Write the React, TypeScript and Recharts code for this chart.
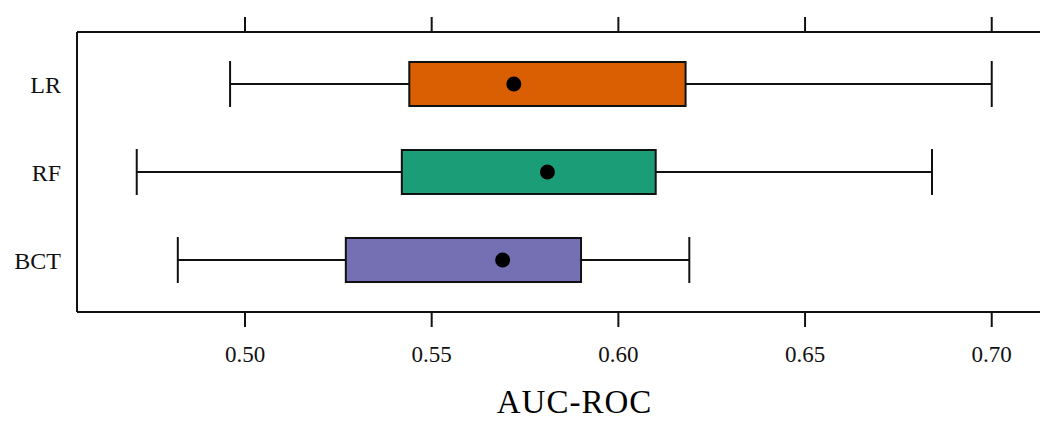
import React from 'react';
import {
  ComposedChart,
  Bar,
  Line,
  Cell,
  XAxis,
  YAxis,
} from 'recharts';

// AUC-ROC spread per model
const models = ['LR', 'RF', 'BCT'];
const whiskerLow = [0.496, 0.471, 0.482];
const lowerQuartile = [0.544, 0.542, 0.527];
const means = [0.572, 0.581, 0.569];
const upperQuartile = [0.618, 0.61, 0.59];
const whiskerHigh = [0.7, 0.684, 0.619];
const boxColors = ['#D95F02', '#1B9E77', '#7570B3'];
const xTicks = [0.5, 0.55, 0.6, 0.65, 0.7];

const FONT = '"Liberation Serif", "Times New Roman", serif';
const INK = '#111';

// stacked pieces: hidden base -> left whisker -> box -> right whisker
const data = models.map((name, i) => ({
  name,
  base: whiskerLow[i],
  leftWhisker: lowerQuartile[i] - whiskerLow[i],
  box: upperQuartile[i] - lowerQuartile[i],
  rightWhisker: whiskerHigh[i] - upperQuartile[i],
  mean: means[i],
}));

const LeftWhisker = (p: any) => {
  const { x, y, width, height } = p;
  const cy = y + height / 2;
  return (
    <g stroke={INK} strokeWidth={2}>
      <line x1={x} x2={x + width} y1={cy} y2={cy} />
      <line x1={x} x2={x} y1={y - 1} y2={y + height + 1} />
    </g>
  );
};

const RightWhisker = (p: any) => {
  const { x, y, width, height } = p;
  const cy = y + height / 2;
  return (
    <g stroke={INK} strokeWidth={2}>
      <line x1={x} x2={x + width} y1={cy} y2={cy} />
      <line x1={x + width} x2={x + width} y1={y - 1} y2={y + height + 1} />
    </g>
  );
};

const App: React.FC = () => {
  return (
    <div
      style={{
        position: 'fixed',
        left: 0,
        top: 0,
        width: 1040,
        height: 422,
        overflow: 'hidden',
        background: '#fff',
      }}
    >
      <ComposedChart
        width={1100}
        height={422}
        data={data}
        layout="vertical"
        margin={{ top: 0, right: 0, bottom: 0, left: 0 }}
        barSize={44}
      >
        <XAxis
          type="number"
          domain={[0.455, 0.729]}
          allowDataOverflow
          ticks={xTicks}
          tickFormatter={(v: number) => v.toFixed(2)}
          height={110}
          tickSize={15}
          tickMargin={19}
          stroke={INK}
          strokeWidth={2}
          tick={{ fill: INK, fontSize: 23, fontFamily: FONT }}
          label={{
            value: 'AUC-ROC',
            position: 'insideBottom',
            offset: 9,
            dx: -14,
            fill: '#000',
            fontSize: 33,
            letterSpacing: 1,
            fontFamily: FONT,
          }}
        />
        <XAxis
          xAxisId="top"
          orientation="top"
          type="number"
          domain={[0.455, 0.729]}
          allowDataOverflow
          ticks={xTicks}
          tickFormatter={() => ''}
          height={32}
          tickSize={15}
          stroke={INK}
          strokeWidth={2}
        />
        <YAxis
          type="category"
          dataKey="name"
          width={77}
          padding={{ top: 8, bottom: 8 }}
          tickLine={false}
          tickSize={0}
          tickMargin={16}
          stroke={INK}
          strokeWidth={2}
          tick={{ fill: INK, fontSize: 24, fontFamily: FONT }}
        />

        <Bar dataKey="base" stackId="bx" fill="transparent" isAnimationActive={false} />
        <Bar dataKey="leftWhisker" stackId="bx" shape={LeftWhisker} isAnimationActive={false} />
        <Bar dataKey="box" stackId="bx" stroke={INK} strokeWidth={2} isAnimationActive={false}>
          {data.map((d, i) => (
            <Cell key={d.name} fill={boxColors[i]} />
          ))}
        </Bar>
        <Bar dataKey="rightWhisker" stackId="bx" shape={RightWhisker} isAnimationActive={false} />

        {/* mean markers */}
        <Line
          dataKey="mean"
          stroke="none"
          dot={{ r: 7.5, fill: '#000', stroke: 'none' }}
          activeDot={false}
          isAnimationActive={false}
        />
      </ComposedChart>
    </div>
  );
};

export default App;
